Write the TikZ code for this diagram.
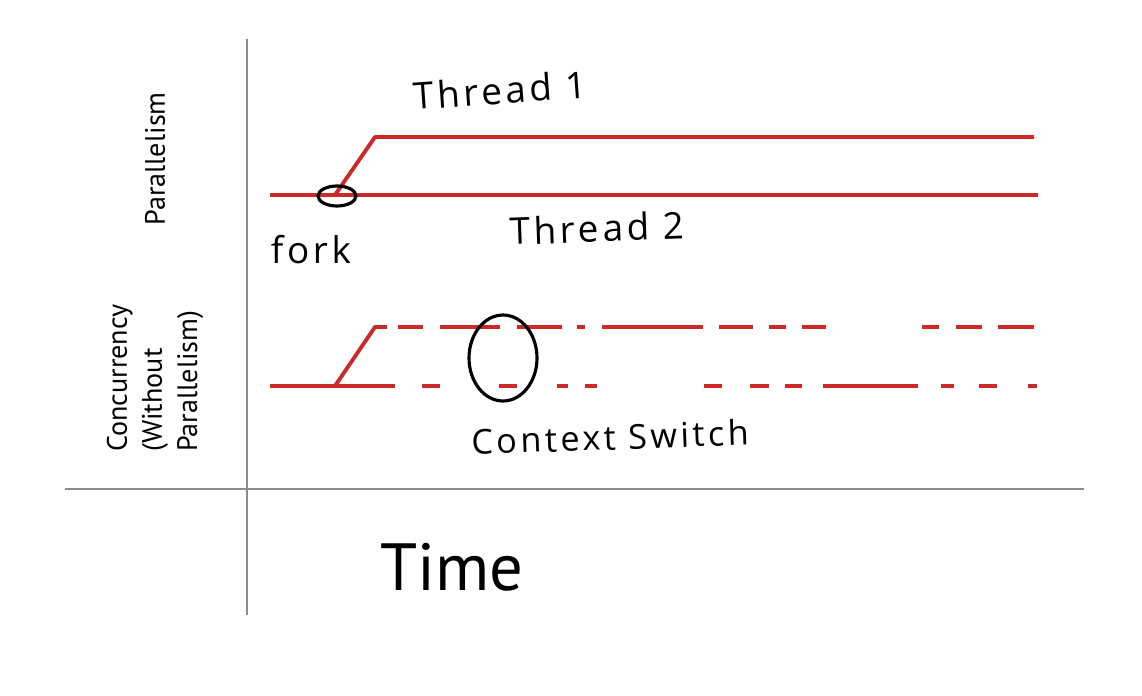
\documentclass[tikz,border=0pt]{standalone}
\usepackage{fontspec}
\setmainfont{PT Sans}
\newfontfamily\handfont[LetterSpace=10]{Open Sans}
\usetikzlibrary{shapes.geometric, positioning}
\definecolor{threadRed}{RGB}{204,41,41}
\definecolor{axisGray}{RGB}{140,140,140}

\begin{document}
\begin{tikzpicture}[x=0.02cm, y=-0.02cm,
  thread/.style={line width=2.2pt, threadRed},
  axis/.style={line width=0.9pt, axisGray},
  ring/.style={ellipse, draw, line width=1.8pt, inner sep=0pt},
  hand/.style={font=\handfont\fontsize{21}{25}\selectfont},
  side/.style={font=\fontsize{16}{20}\selectfont, rotate=90, align=left}
]
  \useasboundingbox (0,0) rectangle (1142,696);

  % axes
  \coordinate (axTop)   at (247,39);
  \coordinate (axBot)   at (247,615);
  \coordinate (axLeft)  at (65,489);
  \coordinate (axRight) at (1084,489);
  \draw[axis] (axTop) -- (axBot);
  \draw[axis] (axLeft) -- (axRight);

  \node[side] (par)  at (155,159) {Parallelism};
  \node[side] (conc) at (155,378) {Concurrency\\(Without\\Parallelism)};
  \node[font=\fontsize{38}{44}\selectfont] (time) at (452,567) {Time};

  % parallelism: two threads running side by side
  \coordinate (pStart) at (270,195);
  \coordinate (pFork)  at (335,195);
  \coordinate (pUp)    at (375,137);
  \coordinate (pEnd1)  at (1034,137);
  \coordinate (pEnd2)  at (1038,195);
  \draw[thread] (pStart) -- (pEnd2);
  \draw[thread, line join=round] (pFork) -- (pUp) -- (pEnd1);
  \node[ring, minimum width=0.76cm, minimum height=0.4cm] (forkRing) at (337,196) {};
  \node[hand, rotate=4] (t1)   at (500,90)  {Thread 1};
  \node[hand, rotate=2] (t2)   at (597,228) {Thread 2};
  \node[hand]           (fork) at (311,250) {fork};

  % concurrency: threads take turns
  \coordinate (cFork) at (335,386);
  \coordinate (cUp)   at (375,327);
  \draw[thread, line join=round] (270,386) -- (cFork) -- (cUp) -- (387,327);
  \foreach \a/\b in {398/423, 440/500, 517/562, 577/585, 602/703, 719/753,
                     769/786, 802/826, 922/939, 956/982, 998/1034}
    \draw[thread] (\a,327) -- (\b,327);
  \foreach \a/\b in {335/395, 422/440, 499/517, 557/568, 585/597, 704/722,
                     750/769, 785/802, 823/918, 941/954, 979/997, 1028/1037}
    \draw[thread] (\a,386) -- (\b,386);
  \node[ring, minimum width=1.36cm, minimum height=1.72cm] (switchRing) at (503,358) {};
  \node[hand, rotate=2, font=\handfont\fontsize{19.5}{24}\selectfont] (ctx) at (610,437) {Context Switch};
\end{tikzpicture}
\end{document}
